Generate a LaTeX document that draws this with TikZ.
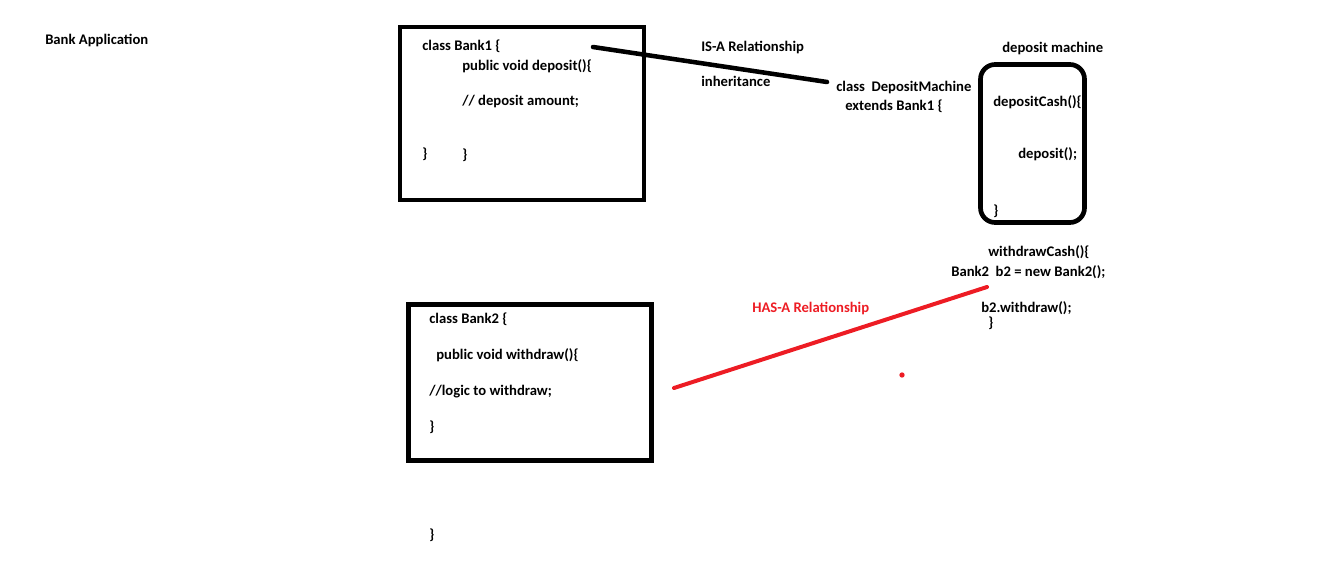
\documentclass[tikz,border=0pt]{standalone}
\usepackage{fontspec}
\setmainfont{Carlito}
\definecolor{hasred}{RGB}{237, 28, 36}
\usepackage{tikz}
\usetikzlibrary{positioning}

\begin{document}
\begin{tikzpicture}[x=0.75pt, y=-0.75pt,
  code/.style={font=\bfseries\fontsize{11}{13}\selectfont, anchor=base west, inner sep=0pt},
  classbox/.style={line width=3.5pt},
  isalink/.style={line width=3.4pt, line cap=round},
  haslink/.style={line width=3pt, line cap=round, hasred}]
  \useasboundingbox (0, 0) rectangle (1330, 574);

  \node[code] (title) at (45, 45) {Bank Application};

  % Bank1
  \draw[classbox] (400, 27) rectangle (644, 200);
  \node[code] (b1class) at (422, 51) {class Bank1 \{};
  \node[code] (b1dep) at (462, 71) {public void deposit()\{};
  \node[code] (b1cmt) at (462, 106) {// deposit amount;};
  \node[code] (b1end) at (422, 158) {\}};
  \node[code] (b1depend) at (462, 160) {\}};

  % IS-A
  \coordinate (isa-a) at (593, 47);
  \coordinate (isa-b) at (827, 82);
  \draw[isalink] (isa-a) -- (isa-b);
  \node[code] (isa) at (701, 52) {IS-A Relationship};
  \node[code] (inh) at (701, 87) {inheritance};
  \node[code] (dmclass) at (836, 92) {class\ \ DepositMachine};
  \node[code] (dmext) at (845, 111) {extends Bank1 \{};

  % deposit machine
  \node[code] (dmtitle) at (1002, 53) {deposit machine};
  \draw[classbox, rounded corners=11pt] (980.5, 64.5) rectangle (1084.5, 222.5);
  \node[code] (dcash) at (993, 107) {depositCash()\{};
  \node[code] (dcall) at (1018, 158) {deposit();};
  \node[code] (dend) at (993, 215) {\}};

  \node[code] (wcash) at (988, 256) {withdrawCash()\{};
  \node[code] (wnew) at (951, 276) {Bank2\ \ b2 = new Bank2();};
  \node[code] (wcall) at (981, 312) {b2.withdraw();};
  \node[code] (wend) at (988, 327) {\}};

  % HAS-A
  \coordinate (has-a) at (674, 388);
  \coordinate (has-b) at (987, 287);
  \draw[haslink] (has-a) -- (has-b);
  \node[code, text=hasred] (has) at (752, 312) {HAS-A Relationship};
  \fill[hasred] (902, 375) circle (2pt);

  % Bank2
  \draw[classbox] (408.5, 304.5) rectangle (651.5, 460.5);
  \node[code] (b2class) at (429, 323) {class Bank2 \{};
  \node[code] (b2wd) at (436, 359) {public void withdraw()\{};
  \node[code] (b2cmt) at (429, 395) {//logic to withdraw;};
  \node[code] (b2wdend) at (429, 431) {\}};
  \node[code] (b2end) at (429, 539) {\}};
\end{tikzpicture}
\end{document}
